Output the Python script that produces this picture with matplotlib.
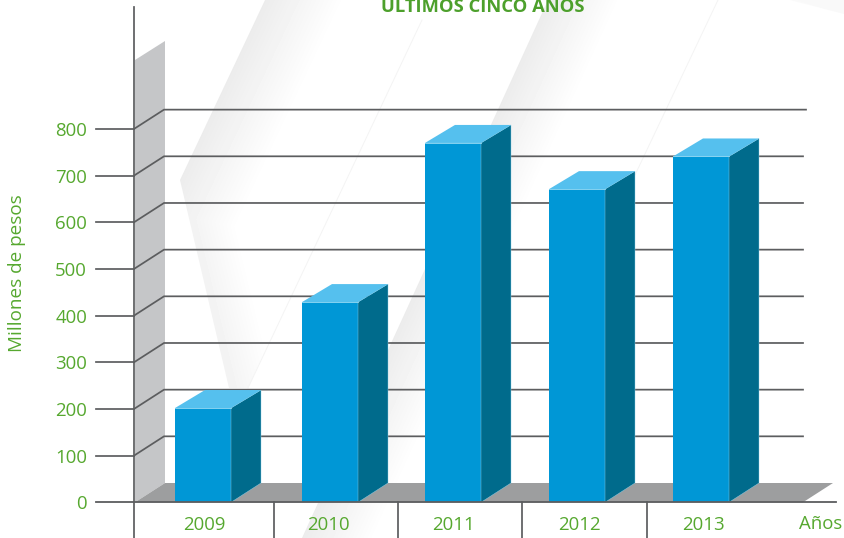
import numpy as np
import matplotlib
matplotlib.use('Agg')
import matplotlib.pyplot as plt
from matplotlib.patches import Polygon

# datos
years = ['2009', '2010', '2011', '2012', '2013']
values = [202, 429, 770, 671, 741]
y_ticks = [0, 100, 200, 300, 400, 500, 600, 700, 800]

plt.rcParams['font.family'] = ['Open Sans', 'DejaVu Sans']

W, H = 844, 538
Y0_PX = 502.3
PX_PER_UNIT = 0.4667
DX = 30
DY = 19.3 / PX_PER_UNIT
TOP_DY = 18 / PX_PER_UNIT
BAR_W = 56
bar_lefts = [175, 302, 425, 549, 673]
year_x = [204, 328, 453.5, 579, 703]
seps = [273.5, 398, 522, 647]

GREEN = '#56a82f'
LINE = '#5c5d5f'
FS = 13.4


def v(py):
    # pixel fila -> valor del eje y
    return (Y0_PX - py) / PX_PER_UNIT


fig = plt.figure(figsize=(W / 100, H / 100), dpi=100)
ax = fig.add_axes([0, 0, 1, 1])
ax.set_xlim(0, W)
ax.set_ylim(v(H), v(0))
ax.axis('off')


def swoosh(poly, ramps):
    # franja gris con degradado hacia blanco, ramps = (p0, normal, ancho, gris)
    xx, yy = np.meshgrid(np.arange(W), np.arange(H))
    img = np.ones((H, W))
    for p0, normal, width, gray in ramps:
        d = (xx - p0[0]) * normal[0] + (yy - p0[1]) * normal[1]
        t = np.clip(d / width, 0, 1)
        img = np.minimum(img, gray + (1 - gray) * t)
    im = ax.imshow(img, extent=[0, W, v(H), v(0)], cmap='gray', vmin=0, vmax=1,
                   aspect='auto', zorder=0)
    patch = Polygon([(x, v(y)) for x, y in poly], closed=True, transform=ax.transData,
                    fc='none', ec='none')
    ax.add_patch(patch)
    im.set_clip_path(patch)


swoosh([(265, 0), (180, 180), (229, 388), (248, 388), (422, 0)],
       [((265, 0), (0.904, 0.427), 72, 0.925),
        ((180, 180), (0.97, -0.235), 45, 0.95)])
swoosh([(548, 0), (302, 538), (420, 538), (700, 0)],
       [((548, 0), (0.909, 0.416), 66, 0.925)])
swoosh([(790, 0), (844, 0), (844, 14)],
       [((800, 0), (-0.3, 0.95), 14, 0.975)])

# lineas muy tenues
ax.plot([422, 248], [v(20), v(388)], color='#f4f4f4', lw=0.7, zorder=0.5)
ax.plot([718, 635], [v(0), v(175)], color='#f4f4f4', lw=0.7, zorder=0.5)

# pared y piso
ax.add_patch(Polygon([(135, v(60)), (165, v(41)), (165, DY), (135, 0)],
                     closed=True, fc='#c5c6c8', ec='none', zorder=1))
ax.add_patch(Polygon([(135, 0), (135 + DX, DY), (833, DY), (803, 0)],
                     closed=True, fc='#9d9e9f', ec='none', zorder=1))

# rejilla
for t in y_ticks[1:]:
    end = 806 if t == y_ticks[-1] else 803
    ax.plot([134, 134 + DX, end], [t, t + DY, t + DY], color=LINE, lw=1.25,
            solid_joinstyle='miter', zorder=2)
    ax.plot([96, 134], [t, t], color=LINE, lw=1.25, zorder=2)

# barras
ax.bar(bar_lefts, values, width=BAR_W, align='edge', color='#0097d6', zorder=4)
for left, val in zip(bar_lefts, values):
    right = left + BAR_W
    ax.add_patch(Polygon([(right, 0), (right + DX, DY), (right + DX, val + TOP_DY), (right, val)],
                         closed=True, fc='#006b8c', ec='#8fd0e8', lw=0.3, zorder=4))
    ax.add_patch(Polygon([(left, val), (left + DX, val + TOP_DY), (right + DX, val + TOP_DY), (right, val)],
                         closed=True, fc='#55c0ee', ec='none', zorder=4))
    ax.plot([left, right], [val, val], color='#9adcf5', lw=0.6, zorder=5)

# ejes
ax.plot([134, 134], [v(H), v(7)], color=LINE, lw=1.25, zorder=6)
ax.plot([96, 836], [0, 0], color=LINE, lw=1.3, zorder=6)
for s in seps:
    ax.plot([s, s], [0, v(H)], color=LINE, lw=1.25, zorder=6)

# textos
for t in y_ticks:
    ax.text(87, t, str(t), color=GREEN, fontsize=FS, ha='right', va='center_baseline', zorder=7)
for x, y in zip(year_x, years):
    ax.text(x, v(523), y, color=GREEN, fontsize=FS, ha='center', va='center_baseline', zorder=7)
ax.text(820.5, v(522), 'Años', color=GREEN, fontsize=FS, ha='center', va='center_baseline', zorder=7)
ax.text(17, v(273), 'Millones de pesos', color=GREEN, fontsize=13.6, rotation=90,
        ha='center', va='center', zorder=7)
ax.text(482.5, v(12), 'ÚLTIMOS CINCO AÑOS', color='#4da02c', fontsize=13.2, fontweight='bold',
        ha='center', va='baseline', zorder=7)

ax.set_xlim(0, W)
ax.set_ylim(v(H), v(0))
fig.savefig('out.png', dpi=100)
